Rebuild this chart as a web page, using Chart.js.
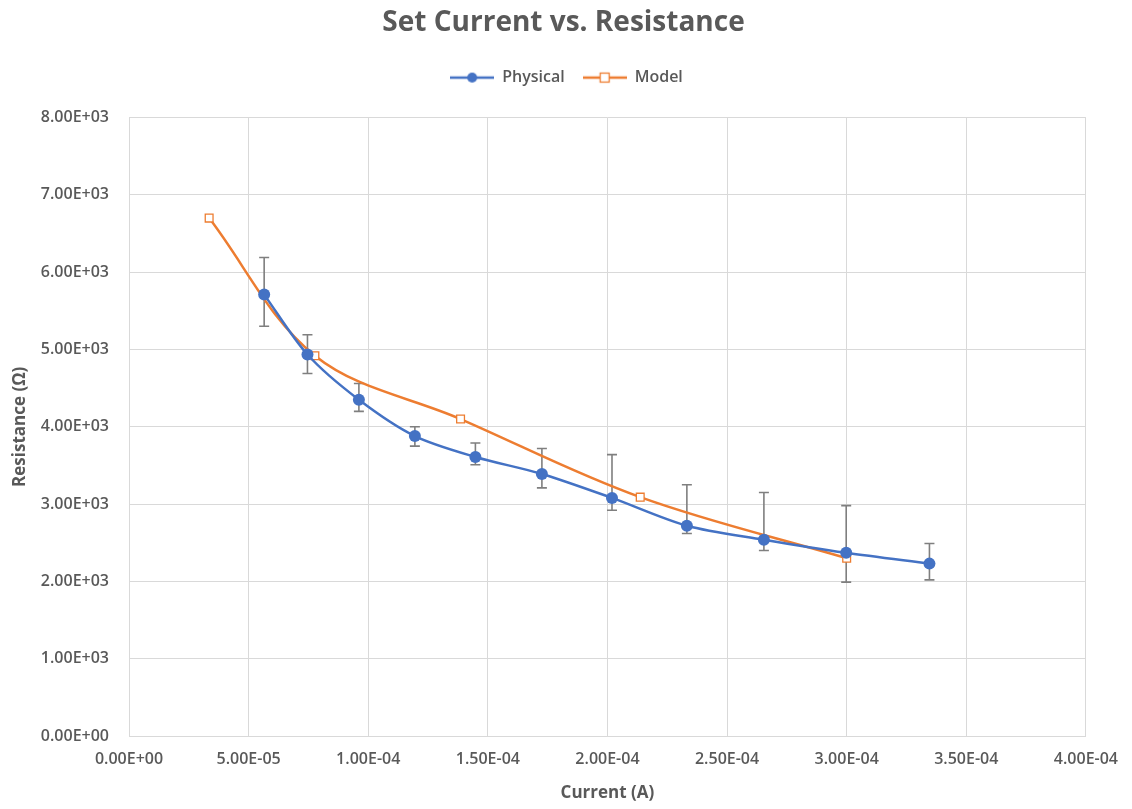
<!DOCTYPE html>
<html>
<head>
<meta charset="utf-8">
<script src="https://cdn.jsdelivr.net/npm/chart.js@4.4.0/dist/chart.umd.min.js"></script>
<style>
  html, body { margin: 0; padding: 0; background: #ffffff; }
  #wrap { width: 1132px; height: 809px; }
</style>
</head>
<body>
<div id="wrap"><canvas id="c" width="1132" height="809"></canvas></div>
<script>
// ---- Data ----
const physicalX  = [5.65e-5, 7.46e-5, 9.61e-5, 1.195e-4, 1.448e-4, 1.726e-4, 2.019e-4, 2.332e-4, 2.654e-4, 2.998e-4, 3.346e-4];
const physicalY  = [5710, 4935, 4350, 3880, 3610, 3390, 3080, 2720, 2540, 2370, 2230];
const physicalHi = [6190, 5190, 4560, 4000, 3790, 3720, 3640, 3250, 3150, 2980, 2490];
const physicalLo = [5300, 4690, 4200, 3750, 3510, 3210, 2920, 2620, 2400, 1990, 2020];

const modelX = [3.35e-5, 7.77e-5, 1.386e-4, 2.137e-4, 3.0e-4];
const modelY = [6700, 4920, 4100, 3090, 2300];

const xTickValues = [0, 5e-5, 1e-4, 1.5e-4, 2e-4, 2.5e-4, 3e-4, 3.5e-4, 4e-4];
const yTickValues = [0, 1000, 2000, 3000, 4000, 5000, 6000, 7000, 8000];

const titleText = 'Set Current vs. Resistance';
const xTitle = 'Current (A)';
const yTitle = 'Resistance (\u03A9)';

// ---- Helpers ----
function sci(v) {
  if (Math.abs(v) < 1e-30) return '0.00E+00';
  let s = v.toExponential(2).toUpperCase();
  const m = s.match(/^(-?[\d.]+)E([+-])(\d+)$/);
  if (!m) return s;
  const e = m[3].length < 2 ? '0' + m[3] : m[3];
  return m[1] + 'E' + m[2] + e;
}

const BLUE = '#4472C4';
const ORANGE = '#ED7D31';
const TXT = '#595959';
const GRID = '#d9d9d9';
const FONT = "'Open Sans', Lato, sans-serif";

function legendIcon(kind, color) {
  const cv = document.createElement('canvas');
  cv.width = 44; cv.height = 14;
  const g = cv.getContext('2d');
  g.strokeStyle = color; g.lineWidth = 2.5;
  g.beginPath(); g.moveTo(0, 7); g.lineTo(44, 7); g.stroke();
  if (kind === 'circle') {
    g.fillStyle = color;
    g.beginPath(); g.arc(22, 7, 5, 0, Math.PI * 2); g.fill();
  } else {
    g.fillStyle = '#ffffff';
    g.fillRect(17, 2, 10, 10);
    g.lineWidth = 1.3;
    g.strokeRect(17.5, 2.5, 9, 9);
  }
  return cv;
}

const physIcon = legendIcon('circle', BLUE);
const modelIcon = legendIcon('square', ORANGE);

const errorBars = {
  id: 'errorBars',
  beforeDatasetsDraw(chart) {
    const xs = chart.scales.x, ys = chart.scales.y;
    const ctx = chart.ctx;
    ctx.save();
    ctx.strokeStyle = '#7f7f7f';
    ctx.lineWidth = 1.6;
    for (let i = 0; i < physicalX.length; i++) {
      const px = xs.getPixelForValue(physicalX[i]);
      const top = ys.getPixelForValue(physicalHi[i]);
      const bot = ys.getPixelForValue(physicalLo[i]);
      ctx.beginPath();
      ctx.moveTo(px, top); ctx.lineTo(px, bot);
      ctx.moveTo(px - 5, top); ctx.lineTo(px + 5, top);
      ctx.moveTo(px - 5, bot); ctx.lineTo(px + 5, bot);
      ctx.stroke();
    }
    ctx.restore();
  }
};

// extra space below the legend so the plot area starts where the reference's does
const legendSpacer = {
  id: 'legendSpacer',
  beforeLayout(chart) {
    const lg = chart.legend;
    if (lg && !lg._spaced) {
      const orig = lg.fit.bind(lg);
      lg.fit = function () { orig(); this.height += 22; };
      lg._spaced = true;
    }
  },
  afterLayout(chart) {
    // the reference centres its title and legend slightly right of the canvas middle
    const t = chart.titleBlock;
    if (t) { t.left += 18; t.right += 18; }
    const lg = chart.legend;
    if (lg) { lg.left += 21; lg.right += 21; }
  }
};

const physicalData = physicalX.map((x, i) => ({ x, y: physicalY[i] }));
const modelData = modelX.map((x, i) => ({ x, y: modelY[i] }));

new Chart(document.getElementById('c'), {
  type: 'scatter',
  data: {
    datasets: [
      {
        label: 'Physical',
        data: physicalData,
        showLine: true,
        borderColor: BLUE,
        backgroundColor: BLUE,
        borderWidth: 2.5,
        tension: 0.3,
        pointStyle: 'circle',
        pointRadius: 6,
        pointHoverRadius: 6,
        pointBackgroundColor: BLUE,
        pointBorderColor: BLUE,
        pointBorderWidth: 0
      },
      {
        label: 'Model',
        data: modelData,
        showLine: true,
        borderColor: ORANGE,
        backgroundColor: '#ffffff',
        borderWidth: 2.5,
        tension: 0.35,
        pointStyle: 'rect',
        pointRadius: 5.5,
        pointHoverRadius: 5.5,
        pointBackgroundColor: '#ffffff',
        pointBorderColor: ORANGE,
        pointBorderWidth: 1.3
      }
    ]
  },
  options: {
    responsive: false,
    animation: false,
    events: [],
    layout: { padding: { left: 0, right: 41, top: 0, bottom: 0 } },
    plugins: {
      title: {
        display: true,
        text: titleText,
        color: TXT,
        font: { family: FONT, size: 28, weight: 'bold' },
        padding: { top: 6, bottom: 12 }
      },
      legend: {
        display: true,
        position: 'top',
        labels: {
          color: TXT,
          font: { family: FONT, size: 16, weight: '600' },
          usePointStyle: true,
          pointStyleWidth: 44,
          boxHeight: 14,
          padding: 18,
          generateLabels(chart) {
            return chart.data.datasets.map((ds, i) => ({
              text: ds.label,
              fontColor: TXT,
              pointStyle: i === 0 ? physIcon : modelIcon,
              datasetIndex: i,
              hidden: false,
              lineWidth: 0,
              strokeStyle: 'transparent',
              fillStyle: 'transparent'
            }));
          }
        }
      },
      tooltip: { enabled: false }
    },
    scales: {
      x: {
        type: 'linear',
        min: 0,
        max: 4e-4,
        afterBuildTicks(scale) { scale.ticks = xTickValues.map(v => ({ value: v })); },
        afterFit(scale) { scale.height = 73; },
        grid: { color: GRID, lineWidth: 1, drawTicks: false },
        border: { display: true, color: GRID },
        ticks: {
          color: TXT,
          font: { family: FONT, size: 16, weight: '600' },
          padding: 14,
          maxRotation: 0,
          callback: v => sci(v)
        },
        title: {
          display: true,
          text: xTitle,
          color: TXT,
          font: { family: FONT, size: 17, weight: 'bold' },
          padding: { top: 4, bottom: 6 }
        }
      },
      y: {
        type: 'linear',
        min: 0,
        max: 8000,
        afterBuildTicks(scale) { scale.ticks = yTickValues.map(v => ({ value: v })); },
        afterFit(scale) { scale.width = 129; },
        grid: { color: GRID, lineWidth: 1, drawTicks: false },
        border: { display: false },
        ticks: {
          color: TXT,
          font: { family: FONT, size: 16, weight: '600' },
          padding: 20,
          callback: v => sci(v)
        },
        title: {
          display: true,
          text: yTitle,
          color: TXT,
          font: { family: FONT, size: 17, weight: 'bold' },
          padding: { top: 10, bottom: 2 }
        }
      }
    }
  },
  plugins: [errorBars, legendSpacer]
});
</script>
</body>
</html>
